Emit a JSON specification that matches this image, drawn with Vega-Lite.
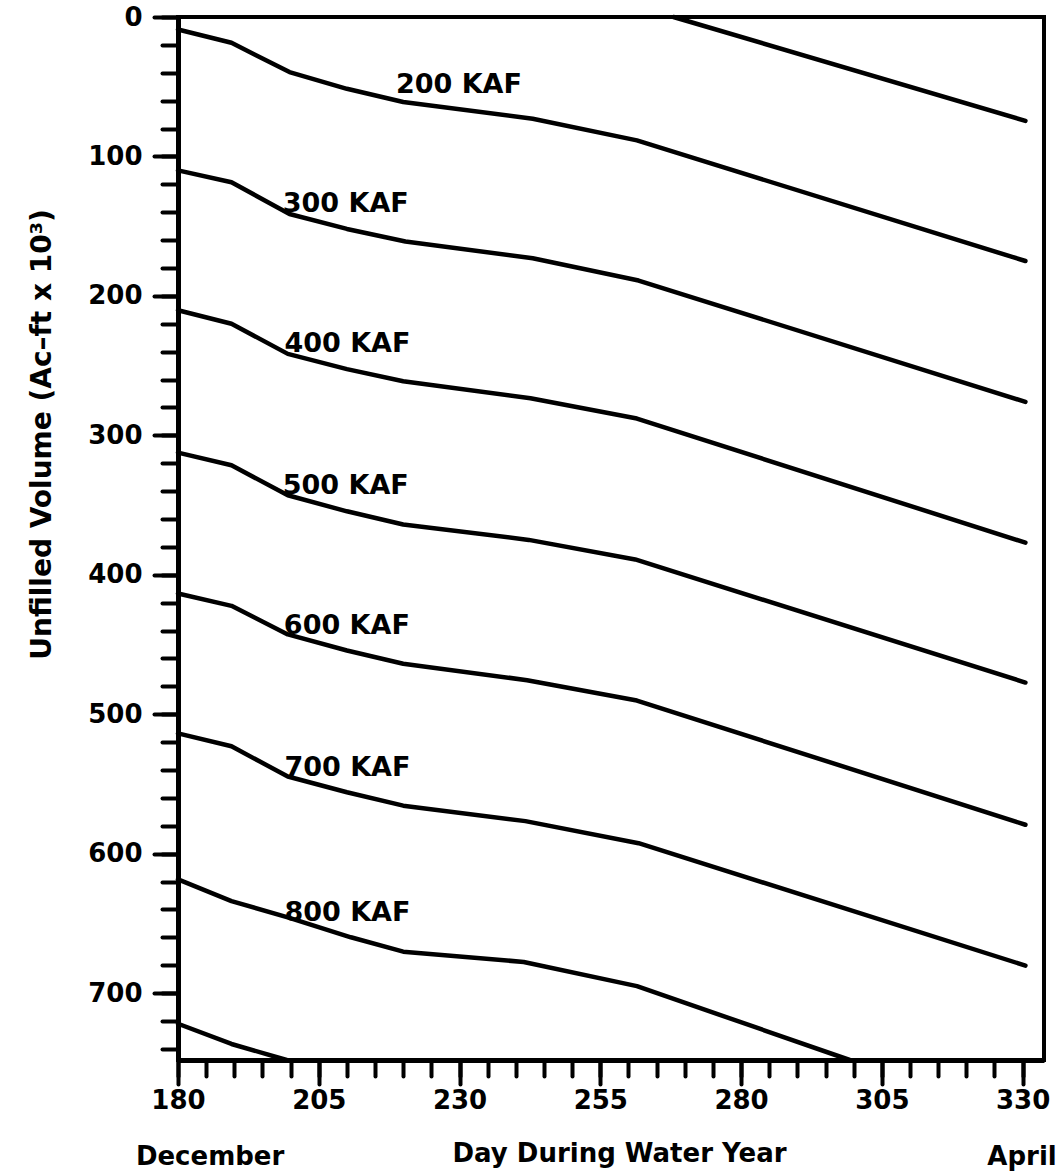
{
  "$schema": "https://vega.github.io/schema/vega-lite/v6.json",
  "width": 866,
  "height": 1043,
  "autosize": {"type": "none"},
  "padding": {"left": 178, "top": 17, "right": 15, "bottom": 113},
  "background": "white",
  "config": {"view": {"stroke": "black", "strokeWidth": 4}, "font": "DejaVu Sans"},
  "datasets": {
    "curves": [
      {"curve": "100", "day": 268, "unfilled": 0},
      {"curve": "100", "day": 330.5, "unfilled": 74.5},
      {"curve": "200", "day": 180, "unfilled": 9},
      {"curve": "200", "day": 189.5, "unfilled": 18.5},
      {"curve": "200", "day": 199.8, "unfilled": 39.5},
      {"curve": "200", "day": 210, "unfilled": 51.5},
      {"curve": "200", "day": 220, "unfilled": 61},
      {"curve": "200", "day": 243, "unfilled": 73},
      {"curve": "200", "day": 261.5, "unfilled": 88.5},
      {"curve": "200", "day": 330.5, "unfilled": 175},
      {"curve": "300", "day": 180, "unfilled": 110},
      {"curve": "300", "day": 189.5, "unfilled": 118.5},
      {"curve": "300", "day": 199.8, "unfilled": 141.3},
      {"curve": "300", "day": 210, "unfilled": 152},
      {"curve": "300", "day": 220.4, "unfilled": 161},
      {"curve": "300", "day": 243, "unfilled": 173},
      {"curve": "300", "day": 261.8, "unfilled": 189},
      {"curve": "300", "day": 330.5, "unfilled": 276},
      {"curve": "400", "day": 180, "unfilled": 210.3},
      {"curve": "400", "day": 189.5, "unfilled": 220},
      {"curve": "400", "day": 199.5, "unfilled": 241.6},
      {"curve": "400", "day": 210, "unfilled": 252.5},
      {"curve": "400", "day": 220, "unfilled": 261.2},
      {"curve": "400", "day": 242.6, "unfilled": 273.4},
      {"curve": "400", "day": 261.5, "unfilled": 288},
      {"curve": "400", "day": 330.5, "unfilled": 377},
      {"curve": "500", "day": 180, "unfilled": 312.4},
      {"curve": "500", "day": 189.5, "unfilled": 321.5},
      {"curve": "500", "day": 199.5, "unfilled": 343},
      {"curve": "500", "day": 210, "unfilled": 354.5},
      {"curve": "500", "day": 220, "unfilled": 364},
      {"curve": "500", "day": 242.3, "unfilled": 375},
      {"curve": "500", "day": 261.2, "unfilled": 389},
      {"curve": "500", "day": 330.5, "unfilled": 477.3},
      {"curve": "600", "day": 180, "unfilled": 413.4},
      {"curve": "600", "day": 189.5, "unfilled": 422.3},
      {"curve": "600", "day": 199.5, "unfilled": 442.8},
      {"curve": "600", "day": 210, "unfilled": 454.3},
      {"curve": "600", "day": 220, "unfilled": 463.8},
      {"curve": "600", "day": 242, "unfilled": 475.6},
      {"curve": "600", "day": 261.5, "unfilled": 490.2},
      {"curve": "600", "day": 330.5, "unfilled": 579.3},
      {"curve": "700", "day": 180, "unfilled": 513.8},
      {"curve": "700", "day": 189.5, "unfilled": 523},
      {"curve": "700", "day": 199.5, "unfilled": 544.7},
      {"curve": "700", "day": 210, "unfilled": 556},
      {"curve": "700", "day": 220, "unfilled": 565.6},
      {"curve": "700", "day": 241.7, "unfilled": 576.7},
      {"curve": "700", "day": 261.8, "unfilled": 592.5},
      {"curve": "700", "day": 330.5, "unfilled": 680.3},
      {"curve": "800", "day": 180, "unfilled": 618.5},
      {"curve": "800", "day": 189.5, "unfilled": 634},
      {"curve": "800", "day": 199.5, "unfilled": 645.7},
      {"curve": "800", "day": 210.7, "unfilled": 660},
      {"curve": "800", "day": 220, "unfilled": 670.3},
      {"curve": "800", "day": 241.4, "unfilled": 677.7},
      {"curve": "800", "day": 261.5, "unfilled": 695},
      {"curve": "800", "day": 299.3, "unfilled": 748},
      {"curve": "900", "day": 180, "unfilled": 722},
      {"curve": "900", "day": 189.5, "unfilled": 736.5},
      {"curve": "900", "day": 199.3, "unfilled": 748}
    ],
    "labels": [
      {"label": "200  KAF", "day": 218.7, "unfilled": 54.8},
      {"label": "300  KAF", "day": 198.6, "unfilled": 140},
      {"label": "400  KAF", "day": 198.9, "unfilled": 240.3},
      {"label": "500  KAF", "day": 198.6, "unfilled": 341.8},
      {"label": "600  KAF", "day": 198.8, "unfilled": 442.3},
      {"label": "700  KAF", "day": 198.9, "unfilled": 544.6},
      {"label": "800  KAF", "day": 198.9, "unfilled": 648.2}
    ],
    "months": [
      {"label": "December", "day": 185.7, "unfilled": 823},
      {"label": "April", "day": 329.9, "unfilled": 823}
    ]
  },
  "layer": [
    {
      "data": {"name": "curves"},
      "mark": {"type": "line", "color": "black", "strokeWidth": 4.5, "strokeCap": "round", "strokeJoin": "round"},
      "encoding": {
        "x": {
          "field": "day", "type": "quantitative",
          "scale": {"domain": [180, 333.8], "nice": false, "zero": false},
          "axis": {
            "orient": "bottom",
            "values": [180, 205, 230, 255, 280, 305, 330],
            "tickSize": 24, "tickWidth": 4, "tickColor": "black", "tickCap": "round",
            "domainColor": "black", "domainWidth": 5,
            "labelFont": "DejaVu Sans", "labelFontWeight": "bold", "labelFontSize": 26, "labelColor": "black",
            "labelPadding": 3, "labelFlush": false, "labelOverlap": false, "grid": false,
            "title": "Day During Water Year", "titleFont": "DejaVu Sans", "titleFontWeight": "bold",
            "titleFontSize": 26, "titleColor": "black", "titleX": 441, "titleY": 101,
            "titleBaseline": "alphabetic", "titleAlign": "center"
          }
        },
        "y": {
          "field": "unfilled", "type": "quantitative",
          "scale": {"domain": [0, 748], "reverse": true, "nice": false, "zero": false},
          "axis": {
            "orient": "left",
            "values": [0, 100, 200, 300, 400, 500, 600, 700],
            "tickSize": 24, "tickWidth": 4, "tickColor": "black", "tickCap": "round",
            "domainColor": "black", "domainWidth": 5,
            "labelFont": "DejaVu Sans", "labelFontWeight": "bold", "labelFontSize": 26, "labelColor": "black",
            "labelPadding": 12, "labelFlush": false, "labelOverlap": false, "grid": false,
            "title": "Unfilled Volume (Ac–ft x 10³)", "titleFont": "DejaVu Sans", "titleFontWeight": "bold",
            "titleFontSize": 28, "titleColor": "black", "titleX": -136, "titleY": 417,
            "titleAngle": -90, "titleBaseline": "middle", "titleAlign": "center"
          }
        },
        "detail": {"field": "curve", "type": "nominal"}
      }
    },
    {
      "data": {"name": "labels"},
      "mark": {"type": "text", "align": "left", "baseline": "alphabetic", "font": "DejaVu Sans", "fontWeight": "bold", "fontSize": 27, "color": "black"},
      "encoding": {
        "x": {
          "field": "day", "type": "quantitative",
          "scale": {"domain": [180, 333.8], "nice": false, "zero": false},
          "axis": {
            "orient": "bottom",
            "values": [180, 185, 190, 195, 200, 205, 210, 215, 220, 225, 230, 235, 240, 245, 250, 255, 260, 265, 270, 275, 280, 285, 290, 295, 300, 305, 310, 315, 320, 325, 330],
            "tickSize": 16, "tickWidth": 4, "tickColor": "black", "tickCap": "round",
            "labels": false, "domain": false, "grid": false, "title": null
          }
        },
        "y": {
          "field": "unfilled", "type": "quantitative",
          "scale": {"domain": [0, 748], "reverse": true, "nice": false, "zero": false},
          "axis": {
            "orient": "left",
            "values": [0, 20, 40, 60, 80, 100, 120, 140, 160, 180, 200, 220, 240, 260, 280, 300, 320, 340, 360, 380, 400, 420, 440, 460, 480, 500, 520, 540, 560, 580, 600, 620, 640, 660, 680, 700, 720, 740],
            "tickSize": 16, "tickWidth": 4, "tickColor": "black", "tickCap": "round",
            "labels": false, "domain": false, "grid": false, "title": null
          }
        },
        "text": {"field": "label", "type": "nominal"}
      }
    },
    {
      "data": {"name": "months"},
      "mark": {"type": "text", "align": "center", "baseline": "alphabetic", "font": "DejaVu Sans", "fontWeight": "bold", "fontSize": 26, "color": "black"},
      "encoding": {
        "x": {"field": "day", "type": "quantitative", "scale": {"domain": [180, 333.8], "nice": false, "zero": false}, "axis": null},
        "y": {"field": "unfilled", "type": "quantitative", "scale": {"domain": [0, 748], "reverse": true, "nice": false, "zero": false}, "axis": null},
        "text": {"field": "label", "type": "nominal"}
      }
    }
  ],
  "resolve": {"axis": {"x": "independent", "y": "independent"}}
}
